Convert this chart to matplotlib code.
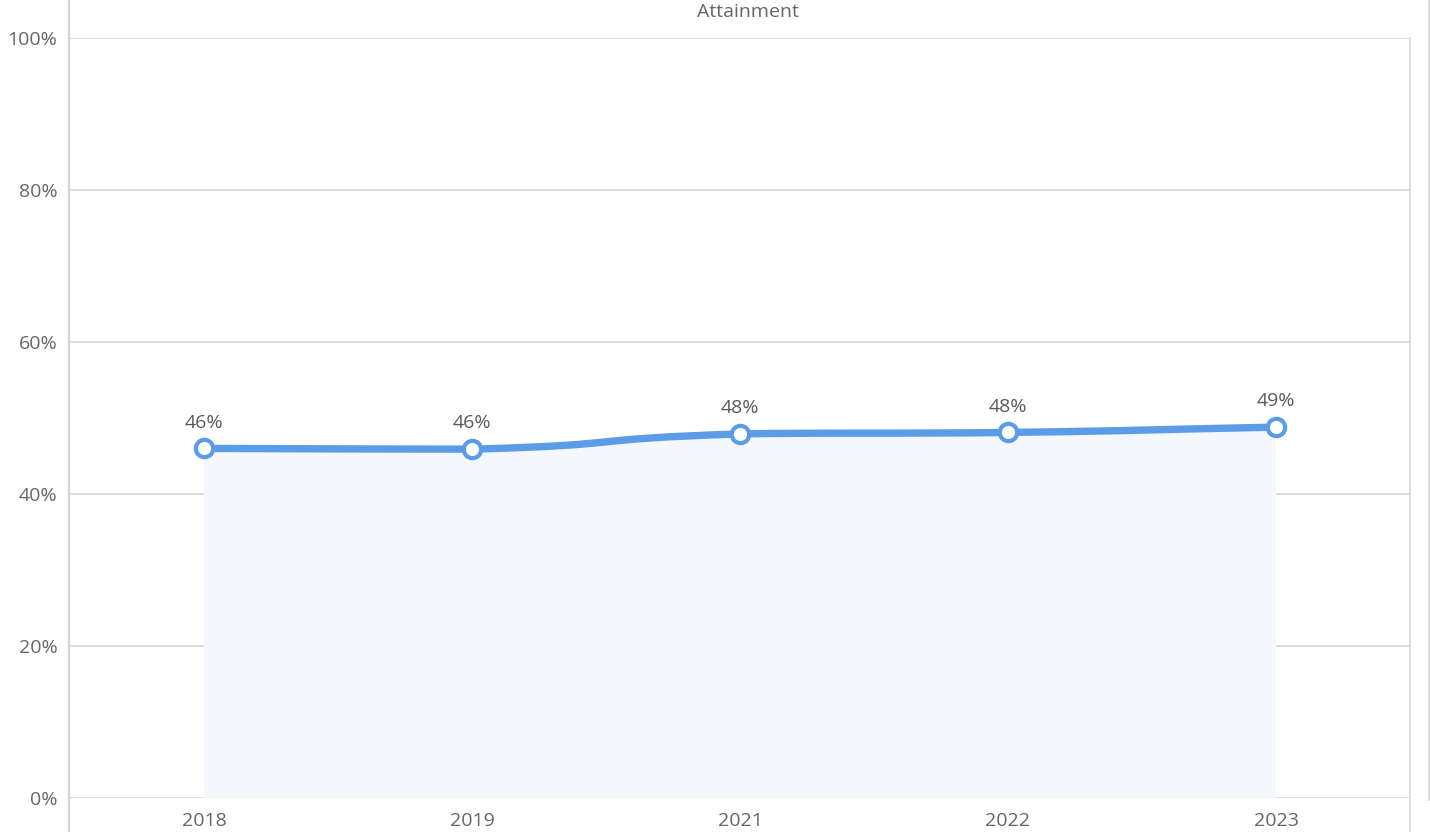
import numpy as np
import matplotlib
matplotlib.use('Agg')
import matplotlib.pyplot as plt
from matplotlib.path import Path
from matplotlib.patches import PathPatch
from matplotlib.lines import Line2D

plt.rcParams['font.family'] = ['Open Sans', 'DejaVu Sans']

# data
years = ['2018', '2019', '2021', '2022', '2023']
attainment = [46.0, 45.9, 47.9, 48.1, 48.8]
labels = ['46%', '46%', '48%', '48%', '49%']
yticks = [0, 20, 40, 60, 80, 100]

W, H = 1430, 832
fig = plt.figure(figsize=(W / 100, H / 100), dpi=100)
L, R, T, B = 70, 1410, 38, 798
ax = fig.add_axes([L / W, 1 - B / H, (R - L) / W, (B - T) / H])

x = np.arange(len(years))
y = np.array(attainment)


def smooth_path(xs, ys, smooth=0.45):
    # bezier curve like a smoothed line chart
    pts = np.column_stack([xs, ys]).astype(float)
    n = len(pts)
    verts = [pts[0]]
    codes = [Path.MOVETO]
    cps = []
    for i in range(n):
        prev = pts[max(i - 1, 0)]
        nxt = pts[min(i + 1, n - 1)]
        v = nxt - prev
        d0 = np.linalg.norm(pts[i] - prev)
        d1 = np.linalg.norm(nxt - pts[i])
        s = d0 + d1 if d0 + d1 > 0 else 1
        c0 = pts[i] - v * smooth * d0 / s
        c1 = pts[i] + v * smooth * d1 / s
        lo = min(pts[i][1], prev[1]); hi = max(pts[i][1], prev[1])
        c0[1] = np.clip(c0[1], lo, hi)
        lo = min(pts[i][1], nxt[1]); hi = max(pts[i][1], nxt[1])
        c1[1] = np.clip(c1[1], lo, hi)
        cps.append((c0, c1))
    for i in range(1, n):
        verts += [cps[i - 1][1], cps[i][0], pts[i]]
        codes += [Path.CURVE4] * 3
    return verts, codes


verts, codes = smooth_path(x, y)
fill_verts = verts + [(x[-1], 0), (x[0], 0), verts[0]]
fill_codes = codes + [Path.LINETO, Path.LINETO, Path.CLOSEPOLY]
ax.add_patch(PathPatch(Path(fill_verts, fill_codes), facecolor='#f4f7fc',
                       edgecolor='none', zorder=1))
ax.add_patch(PathPatch(Path(verts, codes), facecolor='none', edgecolor='#5b9be8',
                       lw=5.3, capstyle='round', zorder=3))
ax.plot(x, y, 'o', ms=12.5, mfc='white', mec='#5b9be8', mew=3, zorder=4)
for xi, yi, lab in zip(x, y, labels):
    ax.annotate(lab, (xi, yi), xytext=(0, 12), textcoords='offset points',
                ha='center', va='bottom', fontsize=14, color='#5a5a5a')

ax.set_xlim(-0.5, len(years) - 0.5)
ax.set_ylim(0, 100)
ax.set_yticks(yticks)
ax.set_yticklabels([f'{t}%' for t in yticks])
ax.set_xticks(x)
ax.set_xticklabels(years)
ax.tick_params(length=0, labelsize=14, labelcolor='#666666')
ax.tick_params(axis='y', pad=9)
ax.tick_params(axis='x', pad=10)
ax.grid(axis='y', color='#dddddd', lw=1.4)
ax.set_axisbelow(True)
for s in ax.spines.values():
    s.set_visible(False)

# frame lines
fig.add_artist(Line2D([69 / W, 69 / W], [0, 1], color='#d4d4d4', lw=1.6))
fig.add_artist(Line2D([R / W, R / W], [0, 1 - T / H], color='#dddddd', lw=1.4))
fig.add_artist(Line2D([1429 / W, 1429 / W], [1 - 800 / H, 1], color='#dddddd', lw=1.4))

fig.text(748 / W, 1 - 12 / H, 'Attainment', ha='center', va='center',
         fontsize=14, color='#666666')

fig.savefig('out.png', dpi=100)
